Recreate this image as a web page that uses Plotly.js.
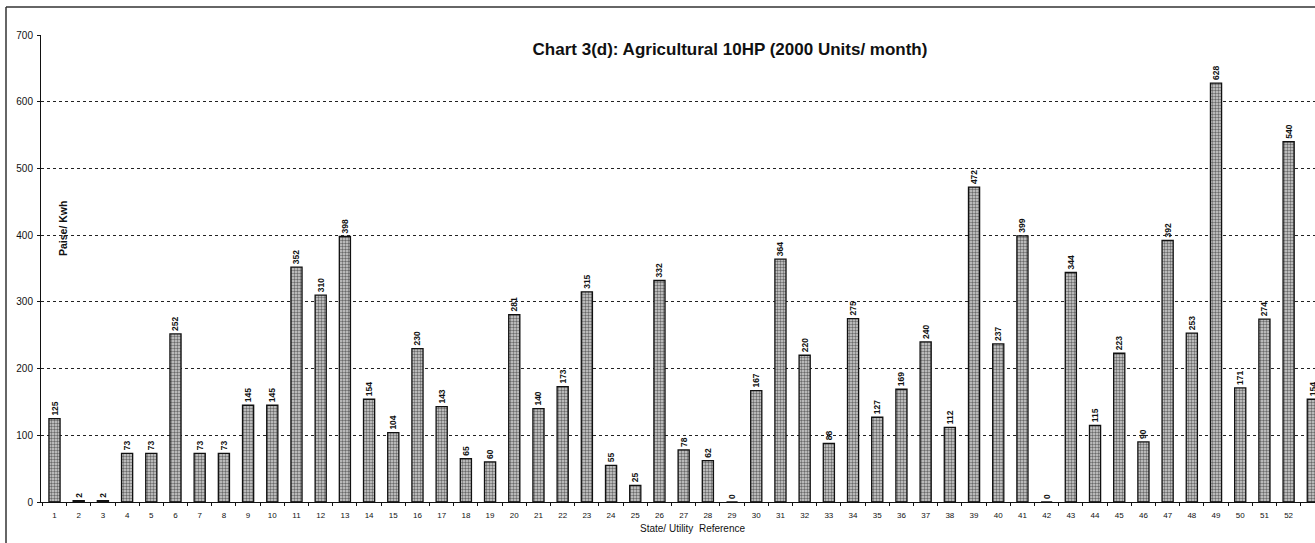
<!DOCTYPE html>
<html>
<head>
<meta charset="utf-8">
<script src="https://cdn.plot.ly/plotly-3.0.1.min.js"></script>
<style>html,body{margin:0;padding:0;background:#fff;}#chart{width:1315px;height:543px;}</style>
</head>
<body>
<div id="chart"></div>
<script>
const references = [1,2,3,4,5,6,7,8,9,10,11,12,13,14,15,16,17,18,19,20,21,22,23,24,25,26,27,28,29,30,31,32,33,34,35,36,37,38,39,40,41,42,43,44,45,46,47,48,49,50,51,52,53];
const tickLabels = references.map(String);
const paisePerKwh = [125,2,2,73,73,252,73,73,145,145,352,310,398,154,104,230,143,65,60,281,140,173,315,55,25,332,78,62,0,167,364,220,88,275,127,169,240,112,472,237,399,0,344,115,223,90,392,253,628,171,274,540,154];
const yTicks = [0,100,200,300,400,500,600,700];

const FONT = 'Arial, Liberation Sans, sans-serif';

const trace = {
  type: 'bar',
  x: references,
  y: paisePerKwh,
  width: 0.46,
  marker: {
    color: '#c4c4c4',
    line: {color: '#111', width: 1.3},
    pattern: {shape: '.', fgcolor: '#6a6a6a', bgcolor: '#d4d4d4', size: 3, solidity: 0.5}
  },
  text: paisePerKwh.map(String),
  texttemplate: '%{text}',
  textposition: 'outside',
  textangle: -90,
  constraintext: 'none',
  cliponaxis: false,
  textfont: {family: FONT, size: 8.5, color: '#111', weight: 'bold'},
  hoverinfo: 'x+y'
};

const layout = {
  width: 1315, height: 543,
  margin: {l: 41, r: 0, t: 35, b: 41, pad: 0},
  paper_bgcolor: '#fff', plot_bgcolor: '#fff',
  showlegend: false,
  title: {
    text: '<b>Chart 3(d): Agricultural 10HP (2000 Units/ month)</b>',
    font: {family: FONT, size: 17, color: '#111'},
    x: 730/1315, xanchor: 'center', xref: 'container',
    y: 1 - 49/543, yanchor: 'middle', yref: 'container'
  },
  xaxis: {
    type: 'linear',
    range: [0.442, 53.09],
    tickmode: 'array',
    tickvals: references,
    ticktext: tickLabels,
    ticks: '',
    showgrid: false,
    zeroline: false,
    showline: true, linecolor: '#111', linewidth: 1,
    tickfont: {family: FONT, size: 8, color: '#111'},
    ticklabelstandoff: 5,
    minor: {tick0: 0.5, dtick: 1, ticks: 'outside', ticklen: 3, tickcolor: '#111', tickwidth: 1, showgrid: false},
    fixedrange: true
  },
  yaxis: {
    range: [0, 700],
    tickmode: 'array',
    tickvals: yTicks,
    ticks: 'outside', ticklen: 3, tickcolor: '#111',
    showgrid: true, gridcolor: '#222', gridwidth: 1, griddash: 'dot',
    zeroline: false,
    showline: true, linecolor: '#111', linewidth: 1,
    tickfont: {family: FONT, size: 10, color: '#111'},
    ticklabelstandoff: 2,
    fixedrange: true
  },
  annotations: [
    {
      text: '<b>Paise/ Kwh</b>',
      textangle: -90,
      xref: 'paper', yref: 'paper',
      x: (63-41)/1274, y: (502-229)/467,
      xanchor: 'center', yanchor: 'middle',
      showarrow: false,
      font: {family: FONT, size: 10.5, color: '#111'}
    },
    {
      text: 'State/ Utility  Reference',
      xref: 'paper', yref: 'paper',
      x: (692-41)/1274, y: -(528-502)/467,
      xanchor: 'center', yanchor: 'middle',
      showarrow: false,
      font: {family: FONT, size: 10, color: '#111'}
    }
  ],
  shapes: [
    {type: 'line', xref: 'paper', yref: 'paper', x0: -35/1274, x1: 1.01, y0: 1 + 28/467, y1: 1 + 28/467, line: {color: '#333', width: 1.5}},
    {type: 'line', xref: 'paper', yref: 'paper', x0: -35/1274, x1: -35/1274, y0: 1 + 28/467, y1: -41/467, line: {color: '#333', width: 1.5}}
  ]
};

Plotly.newPlot('chart', [trace], layout, {displayModeBar: false, staticPlot: true});
</script>
</body>
</html>
